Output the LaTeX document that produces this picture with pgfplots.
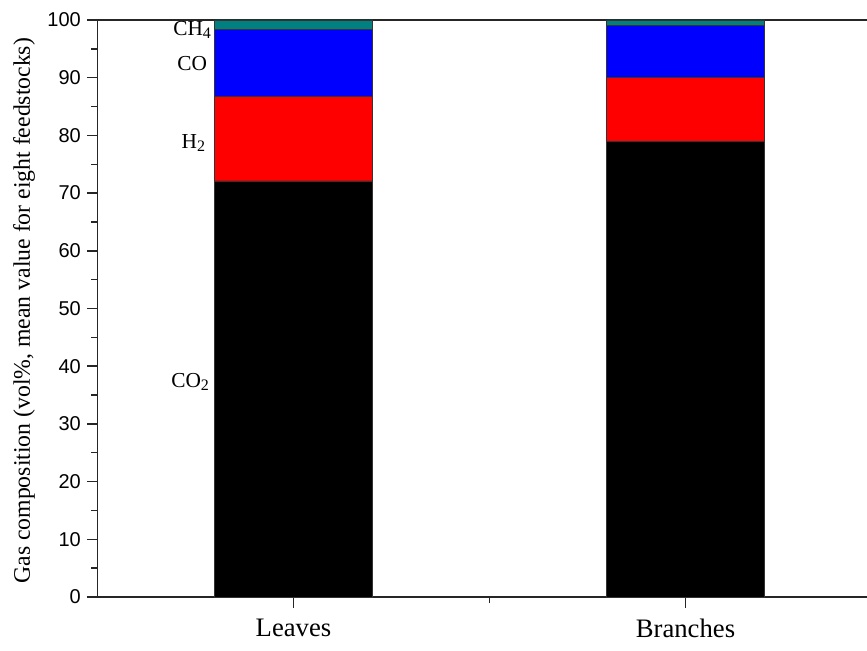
\documentclass[border=0pt]{standalone}
\usepackage{fontspec}
\setmainfont{Liberation Serif}
\newfontfamily\arialfont{Liberation Sans}
\usepackage{pgfplots}
\pgfplotsset{compat=1.18}
\definecolor{chfour}{RGB}{0,128,128}
\newcommand\sub[1]{\raisebox{-0.12em}{\fontsize{12}{12}\selectfont #1}}
\begin{document}
\begin{tikzpicture}
\begin{axis}[
  name=ax,
  at={(0,0)}, anchor=south west,
  scale only axis,
  width=577.125pt, height=432.75pt,
  ybar stacked,
  bar width=0.404,
  xmin=0.5, xmax=2.463,
  ymin=0, ymax=100,
  axis x line*=box, axis y line*=left,
  axis line style={line width=1.1pt, black!85},
  xtick={1,2}, xticklabels={Leaves,Branches},
  minor xtick={1.5},
  ytick={0,10,...,100}, minor ytick={5,15,...,95},
  xtick pos=bottom, ytick pos=left,
  tick align=outside,
  major tick length=8pt, minor tick length=4.5pt,
  every tick/.style={line width=1.1pt, black!85},
  /pgf/number format/assume math mode=true,
  yticklabel style={font=\arialfont\fontsize{15}{15}\selectfont, xshift=-1pt},
  xticklabel style={font=\fontsize{20}{20}\selectfont, yshift=-5pt},
  ylabel={Gas composition (vol\%, mean value for eight feedstocks)},
  ylabel style={font=\fontsize{17.8}{17.8}\selectfont, at={(axis description cs:-0.0955,0.496)}, anchor=center},
  clip=false,
]
\addplot[fill=black, draw=black!80, line width=0.6pt] coordinates {(1,72.1) (2,78.9)};
\addplot[fill=red, draw=black!80, line width=0.6pt] coordinates {(1,14.6) (2,11.1)};
\addplot[fill=blue, draw=black!80, line width=0.6pt] coordinates {(1,11.7) (2,9.0)};
\addplot[fill=chfour, draw=black!80, line width=0.6pt] coordinates {(1,1.6) (2,1.0)};
\node[anchor=east, inner sep=0pt, font=\fontsize{16}{16}\selectfont] at (axis cs:0.785,37.3) {CO\sub{2}};
\node[anchor=east, inner sep=0pt, font=\fontsize{16}{16}\selectfont] at (axis cs:0.775,78.7) {H\sub{2}};
\node[anchor=east, inner sep=0pt, font=\fontsize{16}{16}\selectfont] at (axis cs:0.78,92.5) {CO};
\node[anchor=east, inner sep=0pt, font=\fontsize{16}{16}\selectfont] at (axis cs:0.79,98.3) {CH\sub{4}};
\end{axis}
\pgfresetboundingbox
\useasboundingbox ([shift={(-73.125pt,-39.75pt)}]ax.south west) rectangle ([shift={(0pt,15pt)}]ax.north east);
\end{tikzpicture}
\end{document}
